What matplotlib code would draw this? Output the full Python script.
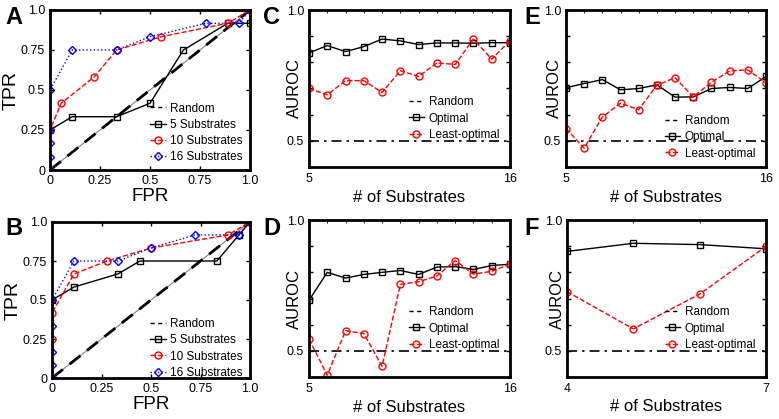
import matplotlib.pyplot as plt
from matplotlib.lines import Line2D
import numpy as np

plt.rcParams['font.family'] = ['Liberation Sans', 'DejaVu Sans']

# ---- ROC data (panels A, B)
roc_a_5_fpr = [0, 0, 0.111, 0.333, 0.5, 0.667, 0.889, 1.0, 1.0]
roc_a_5_tpr = [0, 0.25, 0.333, 0.333, 0.417, 0.75, 0.917, 0.917, 1.0]
roc_a_10_fpr = [0, 0, 0.056, 0.222, 0.333, 0.556, 0.889, 1.0]
roc_a_10_tpr = [0, 0.25, 0.417, 0.583, 0.75, 0.833, 0.917, 1.0]
roc_a_16_fpr = [0, 0, 0, 0, 0, 0.111, 0.333, 0.5, 0.778, 0.944, 1.0]
roc_a_16_tpr = [0, 0.083, 0.167, 0.25, 0.5, 0.75, 0.75, 0.833, 0.917, 0.917, 1.0]

roc_b_5_fpr = [0, 0, 0.111, 0.333, 0.444, 0.833, 0.944, 1.0]
roc_b_5_tpr = [0, 0.5, 0.583, 0.667, 0.75, 0.75, 0.917, 1.0]
roc_b_10_fpr = [0, 0, 0, 0.111, 0.278, 0.5, 0.889, 1.0]
roc_b_10_tpr = [0, 0.25, 0.417, 0.667, 0.75, 0.833, 0.917, 1.0]
roc_b_16_fpr = [0, 0, 0, 0, 0, 0.111, 0.333, 0.5, 0.722, 0.944, 1.0]
roc_b_16_tpr = [0, 0.083, 0.167, 0.333, 0.5, 0.75, 0.75, 0.833, 0.917, 0.917, 1.0]

# ---- AUROC vs number of substrates (panels C-F)
n_sub = list(range(5, 17))
c_opt = [0.836, 0.864, 0.841, 0.860, 0.889, 0.882, 0.868, 0.874, 0.874, 0.873, 0.875, 0.875]
c_least = [0.700, 0.676, 0.730, 0.730, 0.685, 0.768, 0.746, 0.798, 0.792, 0.889, 0.812, 0.883]
d_opt = [0.693, 0.800, 0.778, 0.792, 0.800, 0.807, 0.792, 0.820, 0.822, 0.811, 0.826, 0.831]
d_least = [0.545, 0.407, 0.577, 0.566, 0.441, 0.754, 0.764, 0.786, 0.845, 0.793, 0.804, 0.831]
e_opt = [0.703, 0.719, 0.734, 0.695, 0.700, 0.714, 0.667, 0.668, 0.700, 0.704, 0.700, 0.746]
e_least = [0.547, 0.472, 0.591, 0.644, 0.619, 0.713, 0.741, 0.668, 0.724, 0.767, 0.771, 0.722]
n_sub_f = [4, 5, 6, 7]
f_opt = [0.880, 0.911, 0.906, 0.890]
f_least = [0.726, 0.584, 0.717, 0.899]

W, H = 779, 419
fig = plt.figure(figsize=(W / 100, H / 100), dpi=100)


def box(x0, y0, x1, y1):
    # pixel box -> figure axes
    return fig.add_axes([x0 / W, 1 - y1 / H, (x1 - x0) / W, (y1 - y0) / H])


def style(ax):
    for s in ax.spines.values():
        s.set_linewidth(2)
    ax.tick_params(direction='in', length=3, width=1, labelsize=9, top=True, right=True)


rand_handle = Line2D([], [], color='black', lw=1, ls=(0, (3, 2.5)))


def roc_panel(ax, d5, d10, d16, leg_y):
    ax.plot([0, 1], [0, 1], color='gray', lw=0.8)
    ax.plot([0, 1], [0, 1], color='black', ls='--', lw=2, dashes=(5, 3))
    h5, = ax.plot(*d5, color='black', marker='s', ms=4, mfc='none', mew=1, lw=1)
    h10, = ax.plot(*d10, color='red', marker='o', ms=5, mfc='none', mew=1, lw=1, ls='--')
    h16, = ax.plot(*d16, color='blue', marker='D', ms=4, mfc='none', mew=1, lw=1, ls=':')
    ax.set_xlim(0, 1)
    ax.set_ylim(0, 1)
    ax.set_xticks([0, 0.25, 0.5, 0.75, 1.0])
    ax.set_xticklabels(['0', '0.25', '0.5', '0.75', '1.0'])
    ax.set_yticks([0, 0.25, 0.5, 0.75, 1.0])
    ax.set_yticklabels(['0', '0.25', '0.5', '0.75', '1.0'])
    ax.set_xlabel('FPR', fontsize=13.5, labelpad=1)
    ax.set_ylabel('TPR', fontsize=14, labelpad=1)
    style(ax)
    ax.legend([rand_handle, h5, h10, h16], ['Random', '5 Substrates', '10 Substrates', '16 Substrates'],
              loc='lower right', bbox_to_anchor=(1.0, leg_y), frameon=False, fontsize=8.5,
              handlelength=1.3, handletextpad=0.4, labelspacing=0.35, borderaxespad=0.2)


def auroc_panel(ax, x, opt, least, xlabpad, ylab_x, leg_y):
    ax.axhline(0.5, color='black', lw=1.2, ls=(0, (6, 3, 1.5, 3)))
    ho, = ax.plot(x, opt, color='black', marker='s', ms=4, mfc='none', mew=1, lw=1)
    hl, = ax.plot(x, least, color='red', marker='o', ms=5, mfc='none', mew=1, lw=1, ls='--')
    ax.set_xlim(x[0], x[-1])
    ax.set_ylim(0.4, 1.0)
    ax.set_xticks([x[0], x[-1]])
    ax.set_xticks(x, minor=True)
    ax.set_yticks(np.arange(0.4, 1.01, 0.1))
    ax.set_yticklabels(['', '0.5', '', '', '', '', '1.0'])
    ax.set_xlabel('# of Substrates', fontsize=12, labelpad=xlabpad)
    ax.set_ylabel('AUROC', fontsize=12)
    ax.yaxis.set_label_coords(ylab_x, 0.5)
    style(ax)
    ax.tick_params(axis='x', pad=4)
    ax.tick_params(which='minor', direction='in', length=2, top=True, bottom=False)
    ax.legend([rand_handle, ho, hl], ['Random', 'Optimal', 'Least-optimal'],
              loc='lower right', bbox_to_anchor=(1.0, leg_y), frameon=False, fontsize=8.5,
              handlelength=1.3, handletextpad=0.4, labelspacing=0.35)


axA = box(50, 10, 250, 170)
roc_panel(axA, (roc_a_5_fpr, roc_a_5_tpr), (roc_a_10_fpr, roc_a_10_tpr), (roc_a_16_fpr, roc_a_16_tpr), 0.0)
axB = box(52, 222, 250, 378)
roc_panel(axB, (roc_b_5_fpr, roc_b_5_tpr), (roc_b_10_fpr, roc_b_10_tpr), (roc_b_16_fpr, roc_b_16_tpr), -0.05)

axC = box(309, 10, 510, 167)
auroc_panel(axC, n_sub, c_opt, c_least, 4, -0.035, 0.1)
axD = box(309, 220, 510, 377)
auroc_panel(axD, n_sub, d_opt, d_least, 4, -0.035, 0.1)
axE = box(566, 10, 766, 167)
auroc_panel(axE, n_sub, e_opt, e_least, 4, -0.02, -0.02)
axF = box(567, 220, 766, 377)
auroc_panel(axF, n_sub_f, f_opt, f_least, 3, -0.01, 0.1)

for lab, (px, py) in zip('ABCDEF', [(14, 18), (14, 228), (271, 18), (272, 228), (532, 18), (532, 228)]):
    fig.text(px / W, 1 - py / H, lab, fontsize=17, fontweight='bold', ha='center', va='center')

fig.savefig('out.png', dpi=100)
